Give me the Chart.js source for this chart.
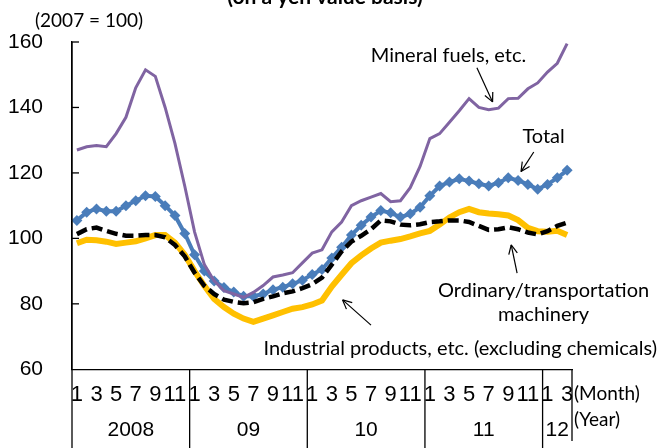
<!DOCTYPE html>
<html>
<head>
<meta charset="utf-8">
<script src="https://cdn.jsdelivr.net/npm/chart.js@4.4.1/dist/chart.umd.min.js"></script>
<style>
  html, body { margin: 0; padding: 0; background: #fff; }
</style>
</head>
<body>
<canvas id="chart" width="667" height="448"></canvas>
<script>
// months Jan 2008 - Mar 2012, index 2007 = 100
const years = ['2008', '09', '10', '11', '12'];
const yearLengths = [12, 12, 12, 12, 3];
const yTicks = [60, 80, 100, 120, 140, 160];

const mineralFuels = [127, 128, 128.4, 128, 132, 137, 146, 151.5, 149.5, 140,
  129, 116, 102, 92, 87, 84, 83, 82, 83.5, 85.6,
  88.2, 88.8, 89.5, 92.5, 95.5, 96.5, 102, 105, 110, 111.5,
  112.6, 113.7, 111.2, 111.5, 115.5, 122, 130.5, 132, 135.5, 139,
  142.7, 140, 139.3, 139.8, 142.7, 142.8, 145.7, 147.5, 150.8, 153.5,
  159.5];
const total = [105.5, 108, 109, 108.3, 108.3, 110, 111.5, 113, 112.8, 110,
  107, 101.5, 95, 90, 87, 85, 83.6, 82.3, 82.3, 83,
  84.3, 85.1, 86.1, 87.2, 89, 90.5, 94, 97.3, 101, 104,
  106.5, 108.5, 107.8, 106.5, 107.5, 109.5, 113, 116, 117.2, 118.2,
  117.5, 116.7, 116, 117, 118.5, 117.7, 116.5, 115, 116.5, 118.5,
  120.8];
const machinery = [101.3, 102.8, 103.3, 102.3, 101.4, 100.8, 100.8, 101, 101, 100.3,
  98, 94.5, 89.5, 85.5, 83, 81.3, 80.6, 80.2, 80.5, 81.5,
  82.3, 83.2, 83.8, 84.8, 86, 88, 92, 96, 99, 100.8,
  102.8, 105.5, 105.2, 104.2, 104, 104.3, 105, 105.2, 105.5, 105.5,
  105, 103.8, 102.6, 102.8, 103.4, 102.8, 101.8, 101.2, 102.2, 103.8,
  104.8];
const industrial = [98.5, 99.6, 99.4, 99, 98.3, 98.7, 99.1, 100, 101, 101,
  98.7, 95, 90, 85.5, 81.5, 79, 77, 75.5, 74.5, 75.5,
  76.5, 77.5, 78.5, 79, 79.8, 81, 85.3, 88.9, 92.4, 94.8,
  96.9, 98.7, 99.3, 99.8, 100.6, 101.5, 102.3, 104.2, 106.4, 108,
  109, 108, 107.6, 107.4, 107, 105.6, 103.2, 102.2, 102, 102.3,
  101];

// month labels 1..12 per year
const labels = [];
yearLengths.forEach(n => { for (let m = 1; m <= n; m++) labels.push(String(m)); });

// callouts in data space: [text, index, value]
const notes = [
  ['Mineral fuels, etc.', 37.9, 156.0],
  ['Total', 47.6, 131.1],
  ['Ordinary/transportation', 47.6, 84.2],
  ['machinery', 47.6, 76.6],
  ['Industrial products, etc. (excluding chemicals)', 39.1, 66.2]
];
// arrows: from [index, value] to [index, value] (head at "to")
const arrows = [
  [[40.8, 152.1], [42.4, 141.7]],
  [[46.6, 126.4], [45.3, 120.4]],
  [[44.9, 89.4], [44.3, 98.0]],
  [[30.0, 73.5], [27.1, 81.2]]
];

const textFont = 'Lato, "Noto Sans", sans-serif';
const numFont = '"Liberation Sans", Arial, sans-serif';
const narrowFont = '"Liberation Sans Narrow", "Liberation Sans", sans-serif';

function line(ctx, x1, y1, x2, y2) {
  ctx.beginPath(); ctx.moveTo(x1, y1); ctx.lineTo(x2, y2); ctx.stroke();
}

const decor = {
  id: 'decor',
  afterDraw(chart) {
    const { ctx, chartArea: a, scales: { x, y } } = chart;
    ctx.save();
    ctx.strokeStyle = '#000';
    ctx.fillStyle = '#000';
    ctx.lineWidth = 1.3;

    // y axis runs down through the label box, ticks point inward
    line(ctx, a.left, a.top, a.left, 448);
    yTicks.forEach(v => {
      const py = y.getPixelForValue(v);
      if (v > 60) line(ctx, a.left, py, a.left + 7, py);
    });

    // year separators and year labels
    let start = 0;
    ctx.font = '21px ' + numFont;
    ctx.textAlign = 'center';
    ctx.textBaseline = 'middle';
    yearLengths.forEach((n, k) => {
      const x0 = x.getPixelForValue(start - 0.5);
      const x1 = x.getPixelForValue(start + n - 0.5);
      const last = k === yearLengths.length - 1;
      line(ctx, x1, a.bottom, x1, last ? 441 : 448);
      ctx.fillText(years[k], (x0 + x1) / 2, 430);
      start += n;
    });

    ctx.font = '19px ' + textFont;
    ctx.textAlign = 'left';
    ctx.fillText('(Month)', a.right + 2, 394);
    ctx.fillText('(Year)', a.right + 2, 420);

    // unit and cut-off title
    ctx.fillText('(2007 = 100)', 35, 21);
    ctx.font = 'bold 21px ' + textFont;
    ctx.textAlign = 'center';
    ctx.textBaseline = 'alphabetic';
    ctx.fillText('(on a yen value basis)', 325, 4);

    // callouts
    ctx.font = '20px ' + textFont;
    ctx.textBaseline = 'middle';
    notes.forEach(([t, i, v]) => ctx.fillText(t, x.getPixelForValue(i), y.getPixelForValue(v)));

    ctx.lineWidth = 1.2;
    arrows.forEach(([p, q]) => {
      const x1 = x.getPixelForValue(p[0]), y1 = y.getPixelForValue(p[1]);
      const x2 = x.getPixelForValue(q[0]), y2 = y.getPixelForValue(q[1]);
      line(ctx, x1, y1, x2, y2);
      const ang = Math.atan2(y2 - y1, x2 - x1);
      const h = 10;
      line(ctx, x2, y2, x2 - h * Math.cos(ang - 0.45), y2 - h * Math.sin(ang - 0.45));
      line(ctx, x2, y2, x2 - h * Math.cos(ang + 0.45), y2 - h * Math.sin(ang + 0.45));
    });
    ctx.restore();
  }
};

new Chart(document.getElementById('chart'), {
  type: 'line',
  data: {
    labels: labels,
    datasets: [
      {
        label: 'Mineral fuels, etc.',
        data: mineralFuels,
        borderColor: '#8064A2',
        borderWidth: 3,
        pointRadius: 0,
        order: 0
      },
      {
        label: 'Ordinary/transportation machinery',
        data: machinery,
        borderColor: '#000',
        borderWidth: 4.5,
        borderDash: [11, 5],
        pointRadius: 0,
        order: 1
      },
      {
        label: 'Total',
        data: total,
        borderColor: '#4A7DBA',
        backgroundColor: '#4A7DBA',
        borderWidth: 4,
        pointStyle: 'rectRot',
        pointRadius: 5.5,
        pointBorderWidth: 0,
        order: 2
      },
      {
        label: 'Industrial products, etc. (excluding chemicals)',
        data: industrial,
        borderColor: '#FFC000',
        borderWidth: 6,
        pointRadius: 0,
        order: 3
      }
    ]
  },
  options: {
    responsive: false,
    animation: false,
    devicePixelRatio: 1,
    layout: { padding: { left: 0, right: 95, top: 42, bottom: 0 } },
    plugins: {
      legend: { display: false },
      tooltip: { enabled: false }
    },
    scales: {
      x: {
        offset: true,
        grid: { display: false, drawTicks: false },
        border: { display: true, color: '#000', width: 1.3 },
        afterFit: s => { s.height = 78.7; },
        ticks: {
          autoSkip: false,
          maxRotation: 0,
          padding: 12,
          color: '#000',
          font: { family: narrowFont, size: 22 },
          callback: function (v) {
            const m = Number(this.getLabelForValue(v));
            return m % 2 === 1 ? String(m) : '';
          }
        }
      },
      y: {
        min: 60,
        max: 160,
        afterFit: s => { s.width = 72; },
        afterBuildTicks: s => { s.ticks = yTicks.map(v => ({ value: v })); },
        grid: { display: false, drawTicks: false },
        border: { display: true, color: '#000', width: 1.3 },
        ticks: {
          padding: 29,
          color: '#000',
          font: { family: numFont, size: 21 }
        }
      }
    }
  },
  plugins: [decor]
});
</script>
</body>
</html>
